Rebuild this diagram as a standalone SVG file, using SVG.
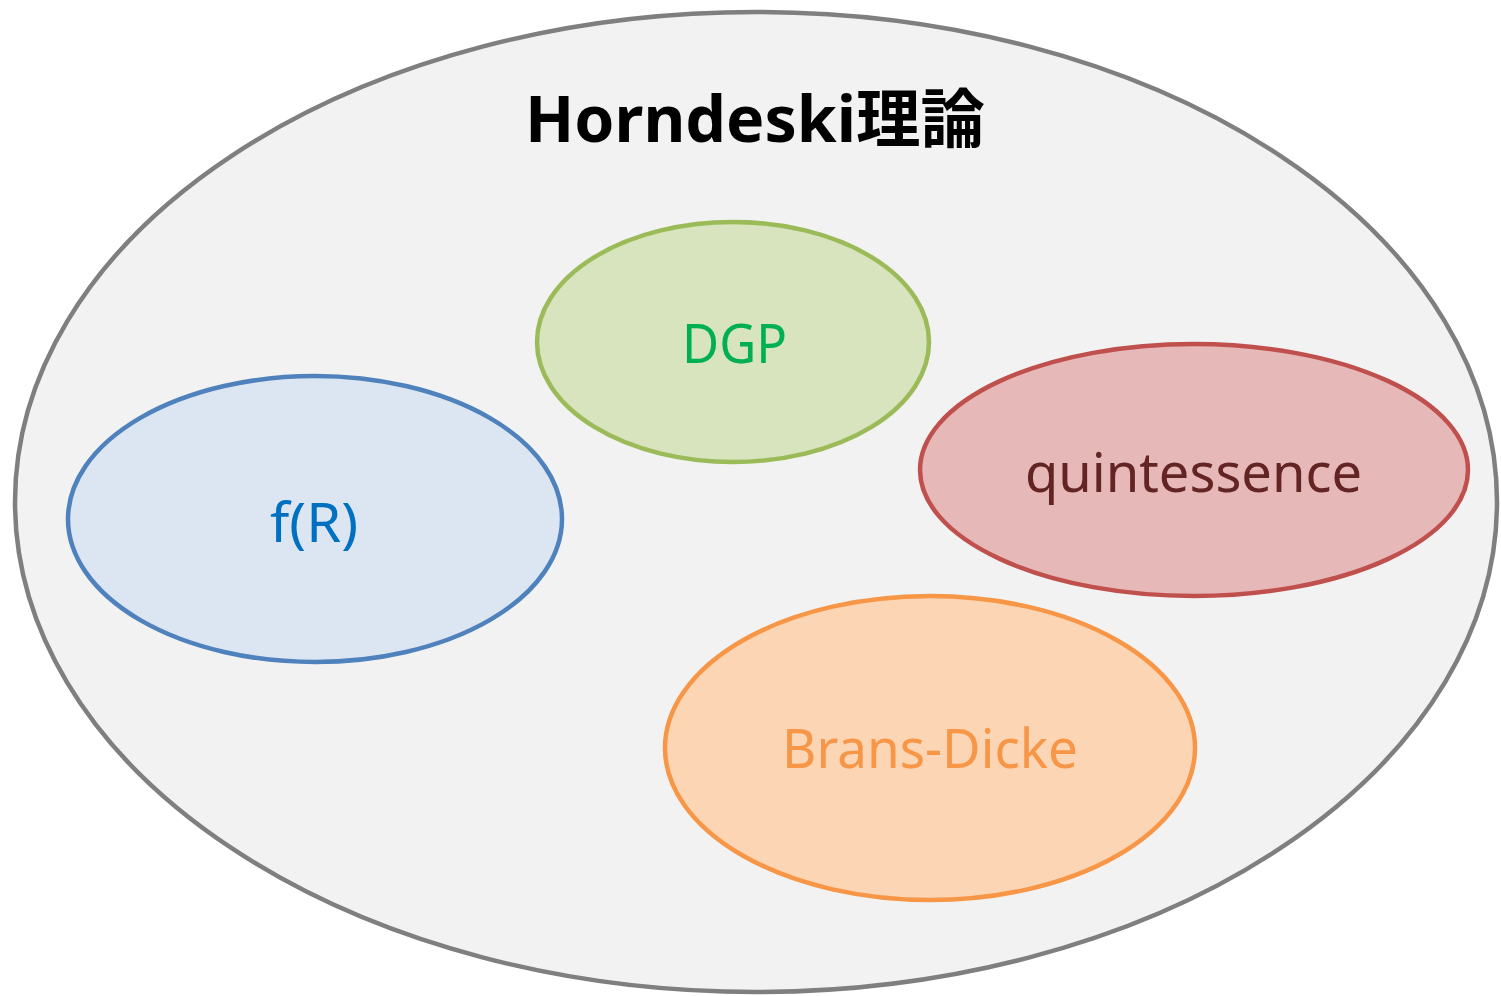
<svg xmlns="http://www.w3.org/2000/svg" width="1501" height="996" viewBox="0 0 1501 996">
  <style>
    .lbl { font-family: "Noto Sans", "Open Sans", "Liberation Sans", sans-serif; font-size: 54px; text-anchor: middle; }
    .title { font-family: "Noto Sans", "Noto Sans CJK JP", sans-serif; font-size: 64px; font-weight: bold; text-anchor: middle; fill: #000; }
    ellipse { stroke-width: 4.5; }
  </style>
  <rect width="1501" height="996" fill="#ffffff"/>
  <g id="horndeski">
    <ellipse cx="756" cy="502" rx="741" ry="490" fill="#f2f2f2" stroke="#7f7f7f"/>
    <text class="title" x="755" y="142" textLength="460" lengthAdjust="spacingAndGlyphs">Horndeski<tspan font-family="Noto Sans CJK JP, sans-serif">理論</tspan></text>
  </g>
  <g id="dgp">
    <ellipse cx="733" cy="342" rx="196" ry="120" fill="#d7e4bd" stroke="#9bbb59"/>
    <text class="lbl" x="734.5" y="363" fill="#00b050" textLength="105" lengthAdjust="spacingAndGlyphs">DGP</text>
  </g>
  <g id="fR">
    <ellipse cx="315" cy="519" rx="247" ry="143" fill="#dce6f2" stroke="#4f81bd"/>
    <text class="lbl" x="314" y="542" fill="#0070c0" textLength="88" lengthAdjust="spacingAndGlyphs">f(R)</text>
  </g>
  <g id="quintessence">
    <ellipse cx="1194" cy="470" rx="274" ry="126" fill="#e6b9b8" stroke="#c0504d"/>
    <text class="lbl" x="1193.5" y="492" fill="#632523" textLength="337" lengthAdjust="spacingAndGlyphs">quintessence</text>
  </g>
  <g id="brans-dicke">
    <ellipse cx="930" cy="748" rx="265" ry="152" fill="#fcd5b5" stroke="#f79646"/>
    <text class="lbl" x="930" y="768" fill="#f79646" textLength="296" lengthAdjust="spacingAndGlyphs">Brans-Dicke</text>
  </g>
  <g id="connectors"/>
</svg>
